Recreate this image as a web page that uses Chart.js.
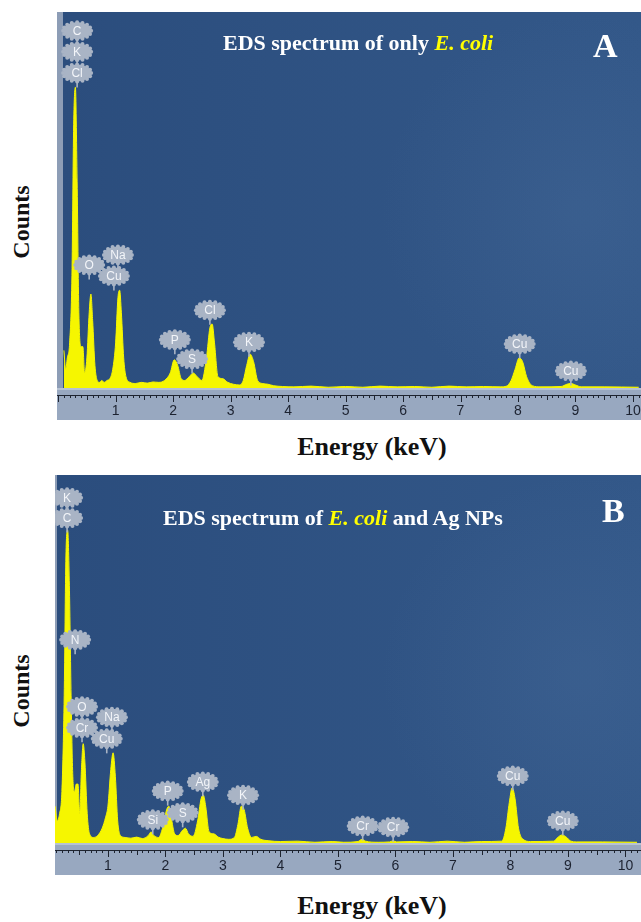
<!DOCTYPE html>
<html>
<head>
<meta charset="utf-8">
<script src="https://cdn.jsdelivr.net/npm/chart.js@4.4.0/dist/chart.umd.min.js"></script>
<style>
  body { margin: 0; background: #fff; width: 641px; height: 922px; position: relative; overflow: hidden; }
  canvas { position: absolute; }
  .serif { position: absolute; font-family: "Liberation Serif", "Times New Roman", serif; font-weight: bold; white-space: nowrap; line-height: 1; }
  .title { color: #fff; font-size: 22px; }
  .title i { color: #ffff00; }
  .letter { color: #fff; font-size: 34px; }
  .ylab { font-size: 24px; color: #111; transform: translate(-50%, -50%) rotate(-90deg); }
  .xlab { font-size: 26px; color: #111; transform: translate(-50%, -50%); }
</style>
</head>
<body>
<canvas id="chartA" width="584" height="408" style="left:57px;top:12px"></canvas>
<canvas id="chartB" width="586" height="400" style="left:55px;top:475px"></canvas>

<div class="serif title" style="left:223px;top:32px">EDS spectrum of only <i>E. coli</i></div>
<div class="serif letter" style="left:593px;top:29px">A</div>
<div class="serif title" style="left:163px;top:507px">EDS spectrum of <i>E. coli</i> and Ag NPs</div>
<div class="serif letter" style="left:602px;top:494px">B</div>

<div class="serif ylab" style="left:21px;top:222px">Counts</div>
<div class="serif ylab" style="left:21px;top:691px">Counts</div>
<div class="serif xlab" style="left:372px;top:447px">Energy (keV)</div>
<div class="serif xlab" style="left:372px;top:906px">Energy (keV)</div>

<script>
// axis ticks (keV)
const tickValues = [1, 2, 3, 4, 5, 6, 7, 8, 9, 10];
const tickLabels = ['1', '2', '3', '4', '5', '6', '7', '8', '9', '10'];

// spectrum A : only E. coli
const energyA = [0.10, 0.13, 0.16, 0.20, 0.24, 0.27, 0.30, 0.33, 0.36, 0.40, 0.43, 0.46, 0.50, 0.54, 0.57, 0.60, 0.64, 0.68,
  0.72, 0.76, 0.80, 0.85, 0.90, 0.95, 1.00, 1.04, 1.07, 1.10, 1.14, 1.18, 1.25, 1.35, 1.45, 1.55, 1.65, 1.75, 1.85, 1.95,
  2.02, 2.08, 2.14, 2.20, 2.28, 2.35, 2.42, 2.50, 2.58, 2.64, 2.68, 2.72, 2.78, 2.86, 2.95, 3.05, 3.15, 3.22, 3.28, 3.34,
  3.40, 3.47, 3.55, 3.65, 3.75, 3.90, 4.10, 4.40, 4.70, 5.00, 5.30, 5.60, 5.90, 6.20, 6.50, 6.80, 7.10, 7.40, 7.70, 7.80,
  7.88, 7.95, 8.02, 8.08, 8.15, 8.25, 8.40, 8.75, 8.85, 8.92, 9.00, 9.10, 9.50, 10.10];
const countsA = [10, 5, 8, 12, 30, 70, 80, 55, 20, 11, 11, 4, 8, 20, 25, 18, 6, 2,
  1.5, 2, 1.5, 2, 2.5, 5, 12, 24, 26, 20, 8, 3, 1.5, 1.2, 1.5, 1.3, 1.6, 1.5, 2, 4,
  7.5, 6, 2.5, 2, 3, 4, 3, 2, 8, 16, 17, 12, 3, 2.5, 1.5, 1.0, 0.8, 2, 6, 9,
  7, 2, 1.2, 1.0, 0.6, 0.4, 0.3, 0.5, 0.2, 0.4, 0.2, 0.5, 0.3, 0.4, 0.2, 0.5, 0.3, 0.4, 0.3, 0.5,
  2, 5, 8, 7, 3, 0.6, 0.3, 0.4, 1, 1.2, 0.8, 0.3, 0.3, 0.2];
const peakNamesA = ['C', 'K', 'Cl', 'O', 'Na', 'Cu', 'P', 'S', 'Cl', 'K', 'Cu', 'Cu'];
const peakEnergyA = [0.33, 0.33, 0.33, 0.54, 1.04, 0.97, 2.03, 2.33, 2.64, 3.32, 8.03, 8.92];
const peakLevelA = [95, 89.4, 83.8, 32.7, 35.4, 29.8, 12.8, 7.7, 20.7, 12.2, 11.7, 4.5];

// spectrum B : E. coli and Ag NPs
const energyB = [0.08, 0.12, 0.16, 0.20, 0.24, 0.27, 0.30, 0.33, 0.36, 0.39, 0.42, 0.45, 0.48, 0.51, 0.54, 0.57, 0.60, 0.64,
  0.68, 0.75, 0.82, 0.90, 0.96, 1.00, 1.05, 1.09, 1.13, 1.17, 1.22, 1.30, 1.40, 1.50, 1.60, 1.70, 1.75, 1.80, 1.88, 1.95,
  2.02, 2.06, 2.10, 2.16, 2.22, 2.30, 2.35, 2.40, 2.48, 2.56, 2.62, 2.66, 2.70, 2.76, 2.84, 2.92, 3.00, 3.10, 3.20, 3.26,
  3.32, 3.37, 3.43, 3.50, 3.58, 3.66, 3.80, 4.00, 4.30, 4.60, 4.90, 5.10, 5.35, 5.42, 5.48, 5.70, 5.90, 5.96, 6.02, 6.30,
  6.60, 6.90, 7.20, 7.50, 7.85, 7.92, 7.98, 8.03, 8.08, 8.14, 8.22, 8.35, 8.75, 8.82, 8.90, 8.97, 9.05, 9.15, 9.60, 10.20];
const countsB = [10, 6, 8, 14, 40, 78, 85, 70, 40, 18, 14, 16, 16, 8, 20, 27, 22, 8,
  2.5, 1.5, 2, 4, 7, 10, 20, 24.5, 18, 6, 2, 1.5, 1.3, 1.6, 1.2, 2, 3, 2, 1.5, 4,
  9, 10, 7, 2.5, 2, 3.5, 4, 2.5, 1.8, 6, 12, 13, 10, 3, 2.5, 1.6, 1.2, 1.0, 1.5, 5,
  10, 9, 4, 1.5, 1.8, 1.0, 0.6, 0.4, 0.5, 0.2, 0.4, 0.2, 0.4, 1.0, 0.5, 0.2, 0.3, 0.6, 0.3, 0.4,
  0.2, 0.5, 0.2, 0.4, 0.5, 4, 11, 15, 12, 4, 1, 0.4, 0.5, 1.5, 2.2, 1.6, 0.5, 0.3, 0.3, 0.2];
const peakNamesB = ['K', 'C', 'N', 'O', 'Cr', 'Na', 'Cu', 'Si', 'P', 'S', 'Ag', 'K', 'Cr', 'Cr', 'Cu', 'Cu'];
const peakEnergyB = [0.29, 0.29, 0.43, 0.55, 0.55, 1.07, 0.98, 1.78, 2.04, 2.30, 2.65, 3.35, 5.43, 5.96, 8.04, 8.91];
const peakLevelB = [93.8, 88.3, 55.2, 37, 31.3, 34.2, 28.3, 6.3, 14.1, 8.2, 16.6, 13, 4.6, 4.3, 18.2, 6];

function drawCloud(ctx, cx, cy, name) {
  const rx = 14, ry = 8.5;
  ctx.save();
  ctx.fillStyle = '#a9b4c5';
  ctx.strokeStyle = '#a9b4c5';
  ctx.lineWidth = 1.6;
  ctx.beginPath();
  ctx.moveTo(cx, cy + ry);
  ctx.lineTo(cx, cy + ry + 6);
  ctx.stroke();
  ctx.beginPath();
  ctx.ellipse(cx, cy, rx, ry, 0, 0, Math.PI * 2);
  ctx.fill();
  for (let i = 0; i < 16; i++) {
    const a = i / 16 * Math.PI * 2;
    ctx.beginPath();
    ctx.arc(cx + Math.cos(a) * rx, cy + Math.sin(a) * ry, 2, 0, Math.PI * 2);
    ctx.fill();
  }
  ctx.fillStyle = '#f3f5f9';
  ctx.font = '12px "Liberation Sans", Arial, sans-serif';
  ctx.textAlign = 'center';
  ctx.textBaseline = 'middle';
  ctx.fillText(name, cx, cy + 0.5);
  ctx.restore();
}

function makeSpectrum(id, energies, counts, xMin, xMax, names, peakE, peakY, leftBar) {
  const panel = {
    id: 'panel',
    beforeDraw(chart) {
      const { ctx, chartArea: a, width, height } = chart;
      const g = ctx.createLinearGradient(a.left, 0, a.right, 0);
      g.addColorStop(0, '#2b4d7d');
      g.addColorStop(1, '#335889');
      ctx.save();
      ctx.fillStyle = g;
      ctx.fillRect(0, 0, width, a.bottom);
      const r = ctx.createRadialGradient(a.right - 60, a.top + 200, 10, a.right - 60, a.top + 200, 200);
      r.addColorStop(0, 'rgba(90,125,170,0.18)');
      r.addColorStop(1, 'rgba(90,125,170,0)');
      ctx.fillStyle = r;
      ctx.fillRect(0, 0, width, a.bottom);
      // ruler strip
      ctx.fillStyle = '#98a8c0';
      ctx.fillRect(0, a.bottom, width, height - a.bottom);
      ctx.fillStyle = '#b6c2d3';
      ctx.fillRect(0, a.bottom, width, 2);
      // left bar
      ctx.fillStyle = '#8d9db6';
      ctx.fillRect(0, 0, leftBar, a.bottom);
      ctx.restore();
    },
    afterDatasetsDraw(chart) {
      const { ctx, chartArea: a, scales: { x, y } } = chart;
      ctx.save();
      ctx.strokeStyle = '#1e2430';
      ctx.lineWidth = 1;
      const lineY = a.bottom + 7;
      ctx.beginPath();
      ctx.moveTo(0, lineY + 0.5);
      ctx.lineTo(chart.width, lineY + 0.5);
      ctx.stroke();
      for (let i = Math.ceil(xMin * 10); i <= Math.floor(xMax * 10); i++) {
        const px = Math.round(x.getPixelForValue(i / 10)) + 0.5;
        const len = i % 10 === 0 ? 7 : (i % 5 === 0 ? 5 : 3);
        ctx.beginPath();
        ctx.moveTo(px, lineY);
        ctx.lineTo(px, lineY + len);
        ctx.stroke();
      }
      ctx.fillStyle = '#1c2230';
      ctx.font = '14px "Liberation Sans", Arial, sans-serif';
      ctx.textAlign = 'center';
      ctx.textBaseline = 'middle';
      tickValues.forEach((v, i) => ctx.fillText(tickLabels[i], x.getPixelForValue(v), a.bottom + 23));
      ctx.restore();
      names.forEach((n, i) => drawCloud(ctx, x.getPixelForValue(peakE[i]), y.getPixelForValue(peakY[i]), n));
    }
  };

  return new Chart(document.getElementById(id), {
    type: 'line',
    data: {
      datasets: [{
        data: energies.map((e, i) => ({ x: e, y: counts[i] })),
        fill: 'origin',
        backgroundColor: '#f6f600',
        borderColor: '#f6f600',
        borderWidth: 1,
        pointRadius: 0,
        cubicInterpolationMode: 'monotone'
      }]
    },
    options: {
      responsive: false,
      animation: false,
      devicePixelRatio: 1,
      layout: { padding: { left: 0, right: 0, top: 0, bottom: 32 } },
      plugins: { legend: { display: false }, tooltip: { enabled: false } },
      scales: {
        x: { type: 'linear', min: xMin, max: xMax, display: false },
        y: { min: 0, max: 100, display: false }
      }
    },
    plugins: [panel]
  });
}

makeSpectrum('chartA', energyA, countsA, -0.02, 10.14, peakNamesA, peakEnergyA, peakLevelA, 6);
makeSpectrum('chartB', energyB, countsB, 0.08, 10.27, peakNamesB, peakEnergyB, peakLevelB, 2);
</script>
</body>
</html>
